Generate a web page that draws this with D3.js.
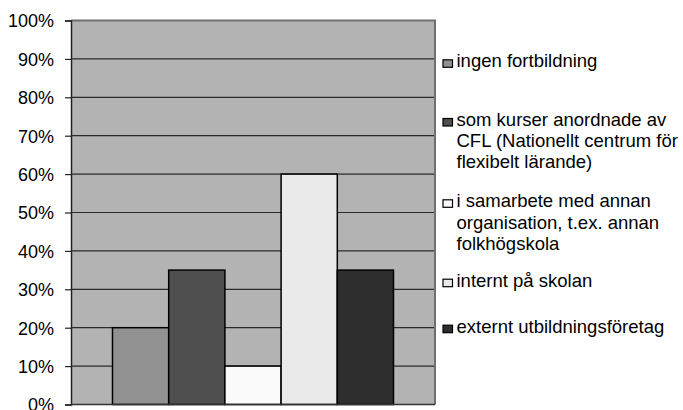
<!DOCTYPE html>
<html>
<head>
<meta charset="utf-8">
<script src="https://cdn.jsdelivr.net/npm/d3@7"></script>
<style>
  html, body { margin: 0; padding: 0; background: #ffffff; }
  svg { display: block; }
  text { font-family: "Liberation Sans", Arial, sans-serif; fill: #000; }
</style>
</head>
<body>
<svg id="chart" width="683" height="410"></svg>
<script>
// ---- data ----
const categories = [""];
const seriesNames = [
  "ingen fortbildning",
  "som kurser anordnade av CFL (Nationellt centrum för flexibelt lärande)",
  "i samarbete med annan organisation, t.ex. annan folkhögskola",
  "internt på skolan",
  "externt utbildningsföretag"
];
const seriesValues = [0.20, 0.35, 0.10, 0.60, 0.35];
const yTicks = [0, 0.1, 0.2, 0.3, 0.4, 0.5, 0.6, 0.7, 0.8, 0.9, 1.0];
const seriesColors = ["#929292", "#4f4f4f", "#fafafa", "#eaeaea", "#2e2e2e"];

// ---- layout ----
const FONT = "'Liberation Sans', Arial, sans-serif";
const svg = d3.select("#chart");
const plot = { left: 71, right: 435, top: 20.5, bottom: 404.5 };

const y = d3.scaleLinear().domain([0, 1]).range([plot.bottom, plot.top]);
const x0 = d3.scaleBand().domain(categories).range([plot.left, plot.right])
  .paddingInner(0).paddingOuter(0.1477);
const x1 = d3.scaleBand().domain(d3.range(seriesNames.length)).range([0, x0.bandwidth()]).padding(0);

// plot background
svg.append("rect")
  .attr("x", plot.left).attr("y", plot.top)
  .attr("width", plot.right - plot.left).attr("height", plot.bottom - plot.top)
  .attr("fill", "#b3b3b3");

// gridlines
svg.append("g").selectAll("line")
  .data(yTicks.filter(d => d > 0 && d < 1))
  .join("line")
  .attr("x1", plot.left).attr("x2", plot.right)
  .attr("y1", d => y(d)).attr("y2", d => y(d))
  .attr("stroke", "#2b2b2b").attr("stroke-width", 1.2);

// plot border (top & right)
svg.append("path")
  .attr("d", `M${plot.left},${plot.top}H${plot.right}V${plot.bottom}`)
  .attr("fill", "none").attr("stroke", "#707070").attr("stroke-width", 2);

// bars
const g = svg.append("g");
categories.forEach(cat => {
  g.append("g").attr("transform", `translate(${x0(cat)},0)`)
    .selectAll("rect")
    .data(seriesValues.map((v, i) => ({ v, i })))
    .join("rect")
    .attr("x", d => x1(d.i))
    .attr("y", d => y(d.v))
    .attr("width", x1.bandwidth())
    .attr("height", d => y(0) - y(d.v))
    .attr("fill", d => seriesColors[d.i])
    .attr("stroke", "#000").attr("stroke-width", 1.5);
});

// y axis
const yAxis = d3.axisLeft(y).tickValues(yTicks).tickFormat(d3.format(".0%"))
  .tickSize(6).tickPadding(11);
const ya = svg.append("g").attr("transform", `translate(${plot.left},0)`).call(yAxis);
ya.attr("font-family", null).attr("font-size", null);
ya.select(".domain").attr("stroke", "#222").attr("stroke-width", 1.5);
ya.selectAll(".tick line").attr("stroke", "#222").attr("stroke-width", 1.2);
ya.selectAll(".tick text")
  .style("font-family", FONT)
  .style("font-size", "18px").attr("fill", "#000").attr("dy", "0.35em");

// x axis line
svg.append("line")
  .attr("x1", plot.left).attr("x2", plot.right)
  .attr("y1", plot.bottom).attr("y2", plot.bottom)
  .attr("stroke", "#333").attr("stroke-width", 1.5);

// ---- legend ----
const legendX = 443, legendTextX = 456.5, lineH = 21.2, maxW = 225;
const legendBaselines = [67.3, 126, 207.3, 286.7, 332.7];
const lg = svg.append("g");
seriesNames.forEach((name, i) => {
  const base = legendBaselines[i];
  lg.append("rect")
    .attr("x", legendX).attr("y", base - 7.5)
    .attr("width", 9.5).attr("height", 7.5)
    .attr("fill", seriesColors[i]).attr("stroke", "#000").attr("stroke-width", 1.2);
  const t = lg.append("text")
    .attr("x", legendTextX).attr("y", base)
    .style("font-family", FONT)
    .style("font-size", "18.5px");
  const words = name.split(" ");
  let line = [];
  let ts = t.append("tspan").attr("x", legendTextX).attr("y", base);
  let lineNo = 0;
  words.forEach(w => {
    line.push(w);
    ts.text(line.join(" "));
    if (ts.node().getComputedTextLength() > maxW && line.length > 1) {
      line.pop();
      ts.text(line.join(" "));
      line = [w];
      lineNo++;
      ts = t.append("tspan").attr("x", legendTextX).attr("y", base + lineNo * lineH).text(w);
    }
  });
});
</script>
</body>
</html>
